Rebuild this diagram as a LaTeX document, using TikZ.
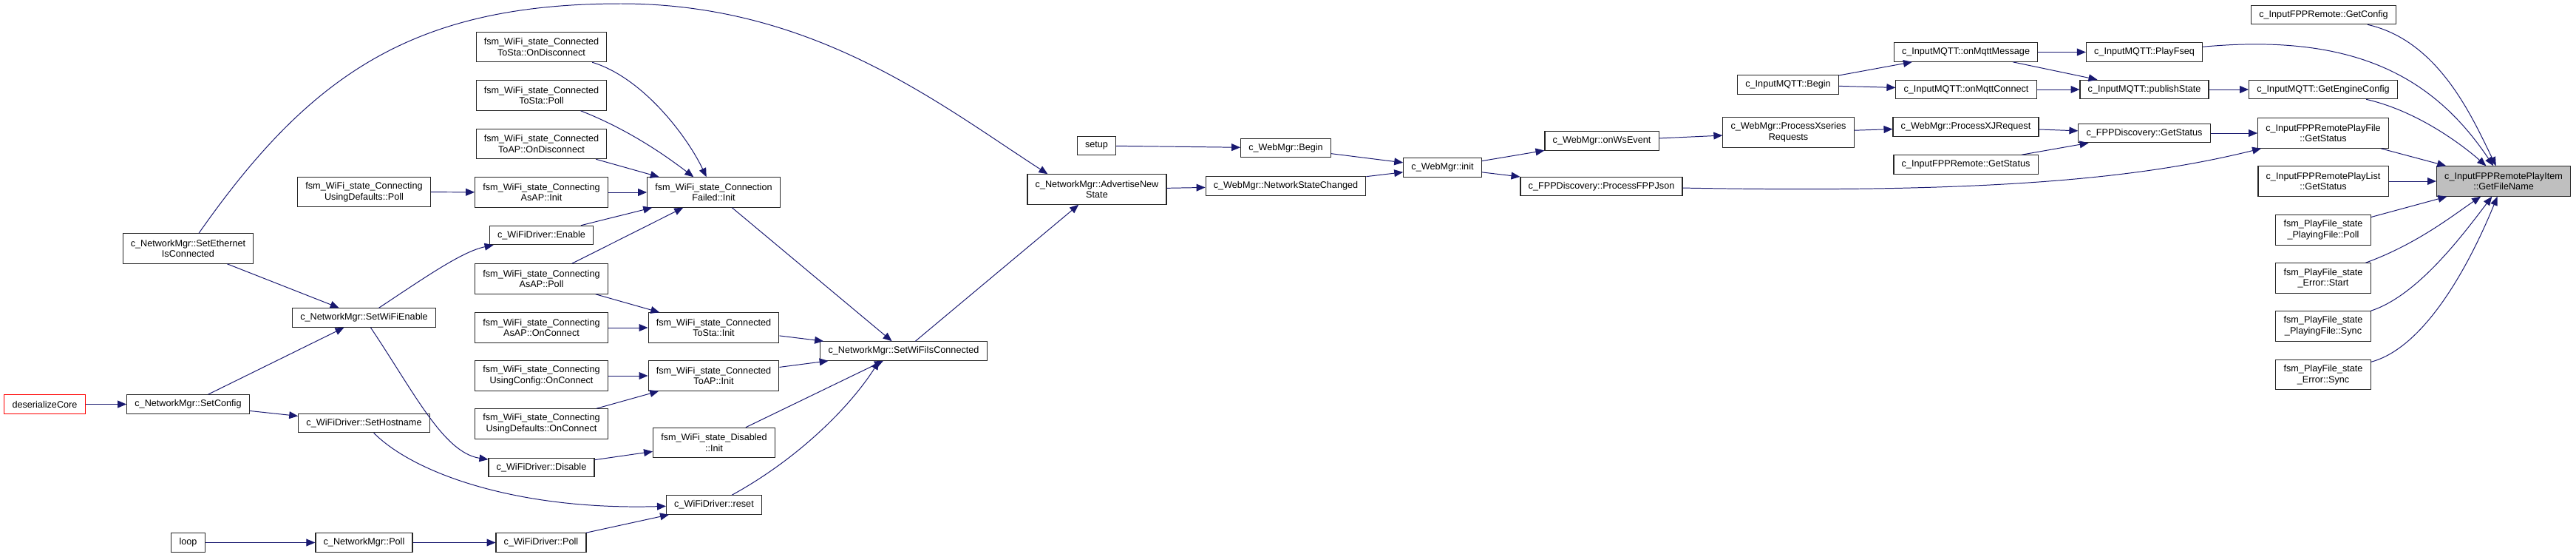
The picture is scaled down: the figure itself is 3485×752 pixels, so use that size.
\documentclass[tikz,border=0pt]{standalone}
\usepackage{fontspec}
\setmainfont{Liberation Sans}
\usetikzlibrary{arrows.meta, calc}
\definecolor{callBlue}{HTML}{191970}
\definecolor{rootGrey}{HTML}{BFBFBF}

\begin{document}
\begin{tikzpicture}[
    x=0.025cm, y=-0.025cm,
    func/.style={rectangle, draw=black!85, fill=white, line width=0.8pt,
                 font=\fontsize{9pt}{10.4pt}\selectfont, align=center,
                 inner xsep=7.6pt, inner ysep=2pt, minimum height=18.1pt},
    func2/.style={func, minimum height=28.7pt},
    calls/.style={draw=callBlue, line width=0.7pt,
                  -{Triangle[length=8.5pt, width=7pt]}},
  ]
    \useasboundingbox (0,0) rectangle (3485,752);

    % callers of the network manager
    \node[func2] (eth) at (254.5,336) {c\_NetworkMgr::SetEthernet\\IsConnected};
    \node[func, draw=red] (desc) at (60.5,546.5) {deserializeCore};
    \node[func] (setcfg) at (254.5,546.5) {c\_NetworkMgr::SetConfig};
    \node[func] (loopfn) at (254.5,733.5) {loop};

    \node[func2] (defpoll) at (492.5,259.5) {fsm\_WiFi\_state\_Connecting\\UsingDefaults::Poll};
    \node[func] (wifien) at (492.5,429.5) {c\_NetworkMgr::SetWiFiEnable};
    \node[func] (sethost) at (492.5,572) {c\_WiFiDriver::SetHostname};
    \node[func] (nmpoll) at (492.5,733.5) {c\_NetworkMgr::Poll};

    % wifi state machine
    \node[func2] (stadisc) at (732.5,63.5) {fsm\_WiFi\_state\_Connected\\ToSta::OnDisconnect};
    \node[func2] (stapoll) at (732.5,129) {fsm\_WiFi\_state\_Connected\\ToSta::Poll};
    \node[func2] (apdisc) at (732.5,194.5) {fsm\_WiFi\_state\_Connected\\ToAP::OnDisconnect};
    \node[func2] (asapinit) at (732.5,260) {fsm\_WiFi\_state\_Connecting\\AsAP::Init};
    \node[func] (enable) at (732.5,318) {c\_WiFiDriver::Enable};
    \node[func2] (asappoll) at (732.5,377) {fsm\_WiFi\_state\_Connecting\\AsAP::Poll};
    \node[func2] (asapconn) at (732.5,443) {fsm\_WiFi\_state\_Connecting\\AsAP::OnConnect};
    \node[func2] (cfgconn) at (732.5,508) {fsm\_WiFi\_state\_Connecting\\UsingConfig::OnConnect};
    \node[func2] (defconn) at (732.5,573) {fsm\_WiFi\_state\_Connecting\\UsingDefaults::OnConnect};
    \node[func] (disable) at (732.5,632) {c\_WiFiDriver::Disable};
    \node[func] (drvpoll) at (732,733.5) {c\_WiFiDriver::Poll};

    \node[func2] (failinit) at (965.5,260) {fsm\_WiFi\_state\_Connection\\Failed::Init};
    \node[func2] (stainit) at (965.5,443) {fsm\_WiFi\_state\_Connected\\ToSta::Init};
    \node[func2] (apinit) at (965.5,508) {fsm\_WiFi\_state\_Connected\\ToAP::Init};
    \node[func2] (disinit) at (966,598.5) {fsm\_WiFi\_state\_Disabled\\::Init};
    \node[func] (reset) at (966,682.5) {c\_WiFiDriver::reset};

    \node[func] (isconn) at (1222.5,474.5) {c\_NetworkMgr::SetWiFiIsConnected};
    \node[func] (setup) at (1483.5,197) {setup};
    \node[func2] (advert) at (1484,256) {c\_NetworkMgr::AdvertiseNew\\State};

    % web manager
    \node[func] (webbegin) at (1739.5,200) {c\_WebMgr::Begin};
    \node[func] (netchg) at (1739.5,251.5) {c\_WebMgr::NetworkStateChanged};
    \node[func] (webinit) at (1951.5,226.5) {c\_WebMgr::init};
    \node[func] (wsevent) at (2167,190.5) {c\_WebMgr::onWsEvent};
    \node[func] (fppjson) at (2166.5,252) {c\_FPPDiscovery::ProcessFPPJson};
    \node[func2] (xseries) at (2419.5,179) {c\_WebMgr::ProcessXseries\\Requests};
    \node[func] (mqttbegin) at (2419,114.5) {c\_InputMQTT::Begin};

    % mqtt and fpp remote
    \node[func] (mqttmsg) at (2659.5,70.5) {c\_InputMQTT::onMqttMessage};
    \node[func] (mqttconn) at (2660,121) {c\_InputMQTT::onMqttConnect};
    \node[func] (xjreq) at (2659.5,171.5) {c\_WebMgr::ProcessXJRequest};
    \node[func] (remstat) at (2659.5,222.5) {c\_InputFPPRemote::GetStatus};
    \node[func] (playfseq) at (2901,70.5) {c\_InputMQTT::PlayFseq};
    \node[func] (pubstate) at (2901,121) {c\_InputMQTT::publishState};
    \node[func] (discstat) at (2901,180) {c\_FPPDiscovery::GetStatus};

    \node[func] (getcfg) at (3143.5,20) {c\_InputFPPRemote::GetConfig};
    \node[func] (engcfg) at (3143,121) {c\_InputMQTT::GetEngineConfig};
    \node[func2] (pfstat) at (3143,180) {c\_InputFPPRemotePlayFile\\::GetStatus};
    \node[func2] (plstat) at (3143,245) {c\_InputFPPRemotePlayList\\::GetStatus};
    \node[func2] (pfpoll) at (3143,311) {fsm\_PlayFile\_state\\\_PlayingFile::Poll};
    \node[func2] (errstart) at (3143,376) {fsm\_PlayFile\_state\\\_Error::Start};
    \node[func2] (pfsync) at (3143,441) {fsm\_PlayFile\_state\\\_PlayingFile::Sync};
    \node[func2] (errsync) at (3143,506.5) {fsm\_PlayFile\_state\\\_Error::Sync};
    \node[func2, fill=rootGrey] (getfile) at (3387,245) {c\_InputFPPRemotePlayItem\\::GetFileName};

    % calls
    \draw[calls] (desc) -- (setcfg);
    \draw[calls] (setcfg) -- (wifien);
    \draw[calls] (setcfg) -- (sethost);
    \draw[calls] (eth) -- (wifien);
    \draw[calls] (eth) .. controls (420,100) and (560,5) .. (840,5)
                 .. controls (1100,5) and (1270,140) .. ($(advert.north west)+(28,0)$);
    \draw[calls] (loopfn) -- (nmpoll);
    \draw[calls] (nmpoll) -- (drvpoll);
    \draw[calls] (defpoll) -- (asapinit);
    \draw[calls] (wifien) .. controls (575,375) and (625,340) .. (enable);
    \draw[calls] (wifien) .. controls (560,530) and (600,612) .. (disable);
    \draw[calls] (sethost) .. controls (560,640) and (700,690) .. (reset);

    \draw[calls] (stadisc) .. controls (870,105) and (930,185) .. (failinit);
    \draw[calls] (stapoll) .. controls (850,175) and (900,210) .. (failinit);
    \draw[calls] (apdisc) -- (failinit);
    \draw[calls] (asapinit) -- (failinit);
    \draw[calls] (enable) -- (failinit);
    \draw[calls] (asappoll) -- (failinit);
    \draw[calls] (asappoll) -- (stainit);
    \draw[calls] (asapconn) -- (stainit);
    \draw[calls] (cfgconn) -- (apinit);
    \draw[calls] (defconn) -- (apinit);
    \draw[calls] (disable) -- (disinit);
    \draw[calls] (drvpoll) -- (reset);
    \draw[calls] (failinit) -- (isconn);
    \draw[calls] (stainit) -- (isconn);
    \draw[calls] (apinit) -- (isconn);
    \draw[calls] (disinit) -- (isconn);
    \draw[calls] (reset) .. controls (1080,620) and (1150,550) .. ($(isconn.south)+(-33,0)$);
    \draw[calls] (isconn) -- (advert);

    \draw[calls] (setup) -- (webbegin);
    \draw[calls] (advert) -- (netchg);
    \draw[calls] (webbegin) -- (webinit);
    \draw[calls] (netchg) -- (webinit);
    \draw[calls] (webinit) -- (wsevent);
    \draw[calls] (webinit) -- (fppjson);
    \draw[calls] (wsevent) -- (xseries);
    \draw[calls] (fppjson) .. controls (2700,262) and (2900,240) .. (pfstat);

    \draw[calls] (mqttbegin) -- (mqttmsg);
    \draw[calls] (mqttbegin) -- (mqttconn);
    \draw[calls] (mqttmsg) -- (playfseq);
    \draw[calls] (mqttmsg) -- (pubstate);
    \draw[calls] (mqttconn) -- (pubstate);
    \draw[calls] (xseries) -- (xjreq);
    \draw[calls] (xjreq) -- (discstat);
    \draw[calls] (remstat) -- (discstat);
    \draw[calls] (pubstate) -- (engcfg);
    \draw[calls] (discstat) -- (pfstat);

    \draw[calls] (getcfg) .. controls (3300,55) and (3345,160) .. (getfile);
    \draw[calls] (playfseq) .. controls (3180,45) and (3290,100) .. (getfile);
    \draw[calls] (engcfg) .. controls (3270,150) and (3330,195) .. (getfile);
    \draw[calls] (pfstat) -- (getfile);
    \draw[calls] (plstat) -- (getfile);
    \draw[calls] (pfpoll) -- (getfile);
    \draw[calls] (errstart) .. controls (3270,330) and (3320,290) .. (getfile);
    \draw[calls] (pfsync) .. controls (3270,400) and (3330,320) .. (getfile);
    \draw[calls] (errsync) .. controls (3280,470) and (3340,360) .. (getfile);
  \end{tikzpicture}
\end{document}
